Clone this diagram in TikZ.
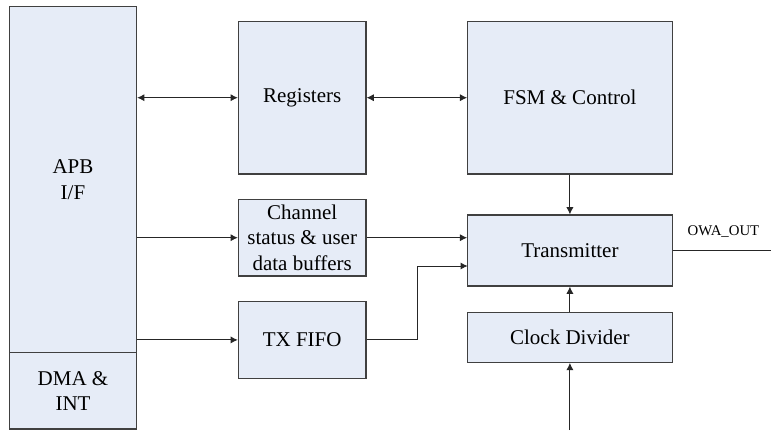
\documentclass[tikz,border=0pt]{standalone}
\usepackage{fontspec}
\setmainfont{Liberation Serif}
\usetikzlibrary{calc,arrows.meta}

\definecolor{boxfill}{RGB}{230,236,247}
\definecolor{boxline}{RGB}{64,64,64}
\tikzset{
  blk/.style={draw=boxline,fill=boxfill,line width=0.6pt,inner sep=0pt,
    align=center,font=\rmfamily\fontsize{10.5}{12.6}\selectfont},
  sig/.style={draw=black!85,line width=0.5pt},
  tip/.style={-{Latex[length=3.6pt,width=3.6pt]}},
  tips/.style={{Latex[length=3.6pt,width=3.6pt]}-{Latex[length=3.6pt,width=3.6pt]}}
}

\begin{document}
\begin{tikzpicture}[x=0.5pt,y=-0.5pt]
\useasboundingbox (0,0) rectangle (771,430);

% left side
\node[blk,minimum width=63.6pt,minimum height=173.1pt] (apb) at (73,179.6) {APB\\I/F};
\node[blk,minimum width=63.6pt,minimum height=38.2pt] (dma) at (73,390.8) {DMA \&\\INT};

% middle column
\node[blk,minimum width=63.8pt,minimum height=76.3pt] (regs) at (302.2,97.7) {Registers};
\node[blk,minimum width=63.8pt,minimum height=38.3pt] (chan) at (302.2,237.7) {Channel\\status \& user\\data buffers};
\node[blk,minimum width=63.8pt,minimum height=38.2pt] (fifo) at (302.2,339.9) {TX FIFO};

% right column
\node[blk,minimum width=102.2pt,minimum height=76.3pt] (fsm) at (569.9,97.7) {FSM \& Control};
\node[blk,minimum width=102.2pt,minimum height=35.5pt] (tx) at (569.9,250.5) {Transmitter};
\node[blk,minimum width=102.2pt,minimum height=25pt] (clk) at (569.9,337.3) {Clock Divider};

\coordinate (txin) at (467.7,266);
\coordinate (clkin) at (569.9,430);
\coordinate (owa) at (771,250.5);

% connections
\draw[sig,tips] (regs.west -| apb.east) -- (regs.west);
\draw[sig,tips] (regs.east) -- (fsm.west);
\draw[sig,tip] (chan.west -| apb.east) -- (chan.west);
\draw[sig,tip] (fifo.west -| apb.east) -- (fifo.west);
\draw[sig,tip] (chan.east) -- (chan.east -| tx.west);
\draw[sig,tip] (fifo.east) -- ++(51,0) |- (txin);
\draw[sig,tip] (fsm.south) -- (tx.north);
\draw[sig,tip] (clk.north) -- (tx.south);
\draw[sig,tip] (clkin) -- (clk.south);
\draw[sig] (tx.east) -- (owa);
\node[font=\rmfamily\fontsize{7.4}{9}\selectfont] (owalbl) at (723.5,231.7) {OWA\_OUT};
\end{tikzpicture}
\end{document}
